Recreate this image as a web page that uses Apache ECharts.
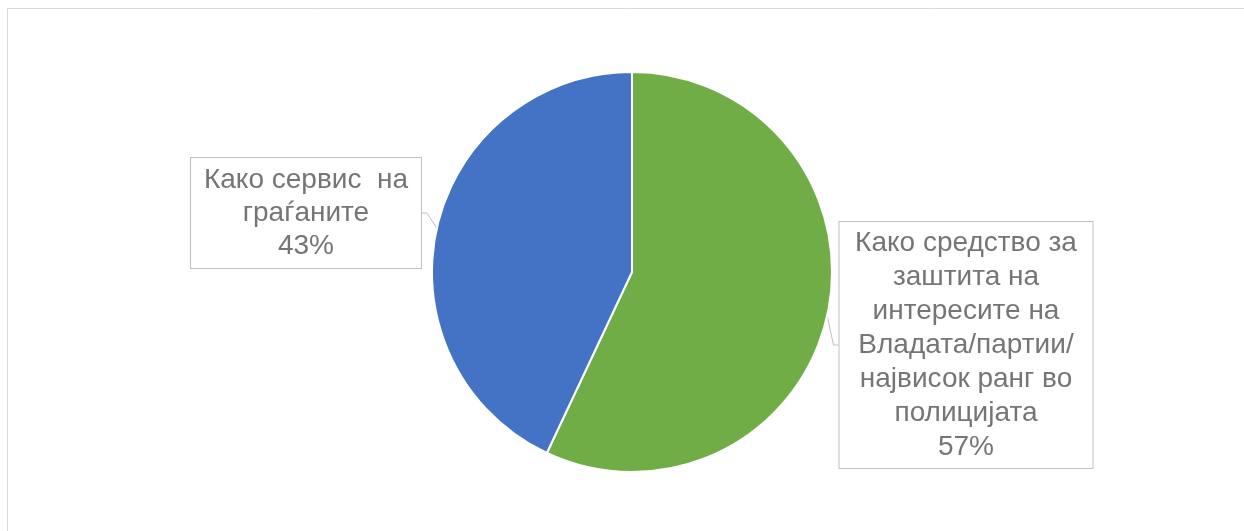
<!DOCTYPE html>
<html>
<head>
<meta charset="utf-8">
<script src="https://cdn.jsdelivr.net/npm/echarts@6/dist/echarts.min.js"></script>
<style>
  html, body { margin: 0; padding: 0; background: #fff; }
  #chart { width: 1244px; height: 531px; }
</style>
</head>
<body>
<div id="chart"></div>
<script>
// податоци
var categories = [
  "Како средство за\nзаштита на\nинтересите на\nВладата/партии/\nнајвисок ранг во\nполицијата",
  "Како сервис  на\nграѓаните"
];
var values = [57, 43];
var colors = ["#70AD47", "#4472C4"];

// позиции на кутиите со ознаки (центар)
var labelCenters = [[966, 345], [306, 213]];
var labelWidths = [237, 214];
var labelLineHeights = [34, 33];
var labelPaddings = [[6, 8, 2, 8], [10, 8, 1, 8]];

var myChart = echarts.init(document.getElementById("chart"));

var seriesData = categories.map(function (name, i) {
  return {
    name: name,
    value: values[i],
    itemStyle: { color: colors[i] },
    label: {
      width: labelWidths[i],
      lineHeight: labelLineHeights[i],
      padding: labelPaddings[i]
    }
  };
});

var option = {
  animation: false,
  graphic: [
    {
      type: "rect",
      shape: { x: 7.5, y: 8.5, width: 1300, height: 600 },
      style: { fill: null, stroke: "#d9d9d9", lineWidth: 1 },
      silent: true
    }
  ],
  series: [
    {
      type: "pie",
      center: [632, 272],
      radius: [0, 200],
      startAngle: 90,
      clockwise: true,
      data: seriesData,
      itemStyle: { borderColor: "#fff", borderWidth: 2 },
      label: {
        show: true,
        position: "outside",
        formatter: function (p) { return p.name + "\n" + p.value + "%"; },
        fontFamily: "Liberation Sans, Arial, sans-serif",
        fontSize: 28,
        color: "#757575",
        align: "center",
        backgroundColor: "#fff",
        borderColor: "#bfbfbf",
        borderWidth: 1
      },
      labelLine: {
        show: true,
        length: 10,
        length2: 5,
        lineStyle: { color: "#bfbfbf", width: 1 }
      },
      labelLayout: function (params) {
        var c = labelCenters[params.dataIndex];
        return { x: c[0], y: c[1], align: "center", verticalAlign: "middle" };
      }
    }
  ]
};

myChart.setOption(option);
</script>
</body>
</html>
